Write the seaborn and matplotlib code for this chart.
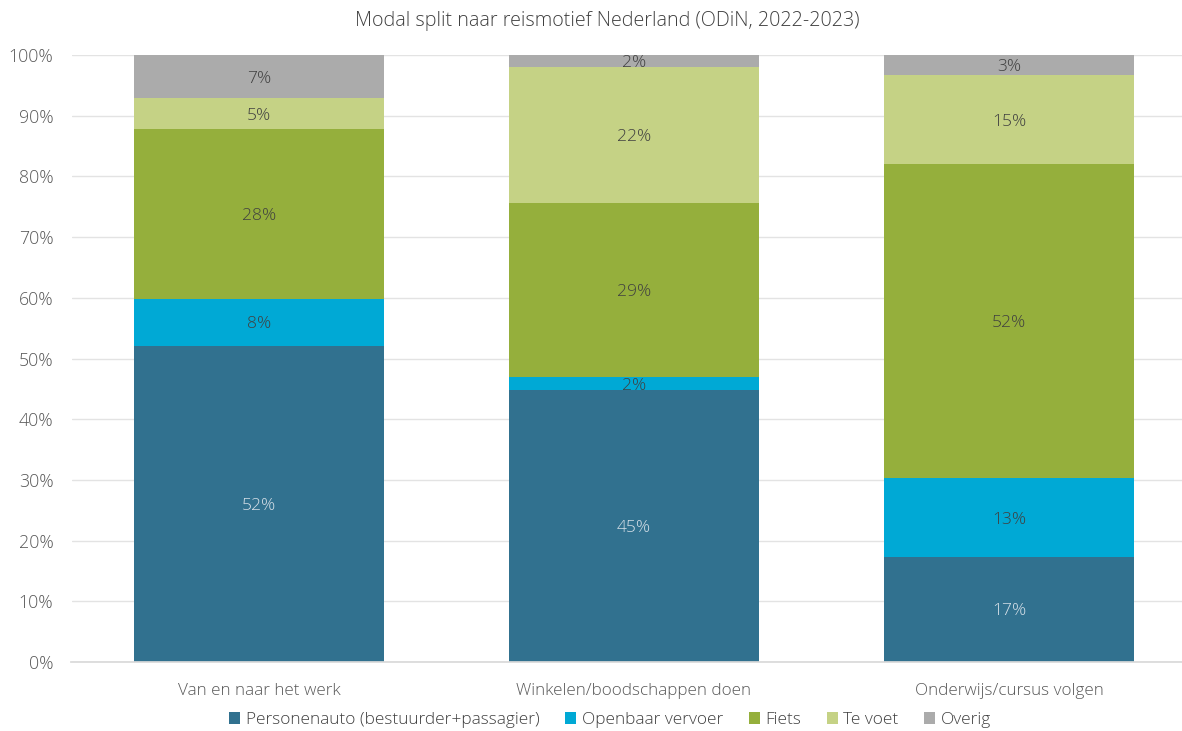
import numpy as np
import pandas as pd
import matplotlib.pyplot as plt
import seaborn as sns
from matplotlib.patches import Patch

motieven = ['Van en naar het werk', 'Winkelen/boodschappen doen', 'Onderwijs/cursus volgen']
modes = ['Personenauto (bestuurder+passagier)', 'Openbaar vervoer', 'Fiets', 'Te voet', 'Overig']
auto = [52.1, 44.8, 17.3]
ov = [7.7, 2.1, 13.0]
fiets = [28.0, 28.7, 51.7]
voet = [5.1, 22.4, 14.7]
overig = [7.1, 2.0, 3.3]
kleuren = ['#31718F', '#00A9D5', '#95AF3C', '#C5D285', '#ABABAB']
label_kleur = ['#D6E0E8', '#404040', '#404040', '#404040', '#404040']

sns.set_theme(style='white')
plt.rcParams['font.family'] = ['Open Sans', 'DejaVu Sans']

df = pd.DataFrame({'motief': motieven, modes[0]: auto, modes[1]: ov,
                   modes[2]: fiets, modes[3]: voet, modes[4]: overig})

fig = plt.figure(figsize=(11.82, 7.31), dpi=100)
ax = fig.add_axes([71.5 / 1182, 1 - 662 / 731, 1 - 71.5 / 1182, 607 / 731])

bottom = np.zeros(len(motieven))
for mode, kleur, tk in zip(modes, kleuren, label_kleur):
    sns.barplot(data=df, x='motief', y=mode, color=kleur, width=0.667,
                bottom=bottom, ax=ax, saturation=1, linewidth=0)
    cont = ax.containers[-1]
    txts = ax.bar_label(cont, labels=[f'{v:.0f}%' for v in df[mode]], label_type='center',
                        color=tk, fontsize=12.6, fontweight='light')
    for t in txts:
        t.set_va('center_baseline')
    bottom = bottom + df[mode].values

ax.set_ylim(0, 100)
ax.set_xlim(-0.5, (1182 - 259) / 375)
ax.set_yticks(range(0, 101, 10))
ax.set_yticklabels([f'{t}%' for t in range(0, 101, 10)])
ax.set_xlabel('')
ax.set_ylabel('')
ax.grid(axis='y', color='#E3E3E3', linewidth=1)
ax.set_axisbelow(True)
for s in ['top', 'right', 'left']:
    ax.spines[s].set_visible(False)
ax.spines['bottom'].set_color('#D9D9D9')
ax.tick_params(axis='y', length=0, labelsize=12.8, labelcolor='#595959', pad=13)
ax.tick_params(axis='x', length=0, labelsize=12.3, labelcolor='#595959', pad=15)
for lab in ax.get_xticklabels() + ax.get_yticklabels():
    lab.set_fontweight('light')

fig.text(607.5 / 1182, 1 - 21 / 731, 'Modal split naar reismotief Nederland (ODiN, 2022-2023)',
         ha='center', va='center', fontsize=14.2, color='#404040', fontweight='light')

handles = [Patch(facecolor=k, edgecolor='none', label=m) for m, k in zip(modes, kleuren)]
leg = fig.legend(handles=handles, loc='center', bbox_to_anchor=(610 / 1182, 1 - 720 / 731),
                 ncol=5, frameon=False, handlelength=0.65, handleheight=0.65,
                 handletextpad=0.3, columnspacing=1.5, prop={'size': 12.4, 'weight': 'light'})
for t in leg.get_texts():
    t.set_color('#404040')

fig.savefig('out.png', dpi=100)
